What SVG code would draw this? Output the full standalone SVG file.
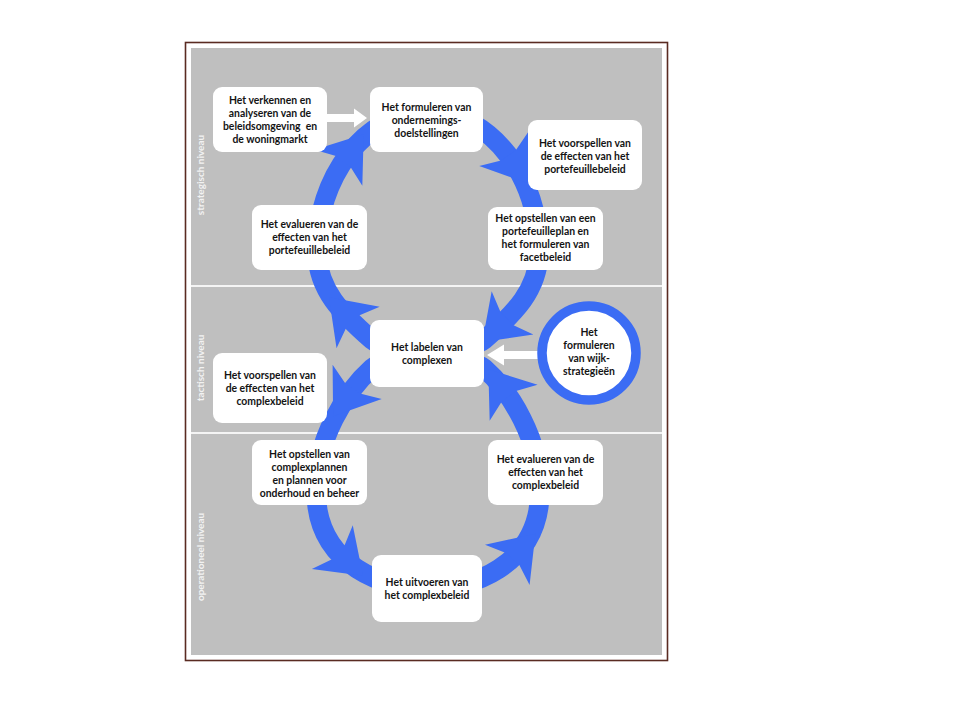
<svg xmlns="http://www.w3.org/2000/svg" width="960" height="720" viewBox="0 0 960 720">
<defs>
<style>
.box{fill:#ffffff;}
.t{font-family:Lato,"Open Sans","DejaVu Sans",sans-serif;font-weight:700;font-size:10.4px;fill:#141414;text-anchor:middle;}
.side{font-family:Lato,"Open Sans","DejaVu Sans",sans-serif;font-weight:700;font-size:10px;fill:#f2f2f2;text-anchor:middle;}
.ring{fill:none;stroke:#3b6cf4;stroke-width:19.5;}
.ah{fill:#3b6cf4;}
.warrow{fill:#ffffff;}
</style>
<path id="ah" d="M26,0 L-16,-30 L-8,-9 L-8,9 L-16,30 Z"/>
</defs>
<rect x="0" y="0" width="960" height="720" fill="#ffffff"/>
<g id="frame">
<rect x="185.5" y="42.5" width="482" height="618" fill="#ffffff" stroke="#5a2b22" stroke-width="1.6"/>
<rect x="191" y="48" width="471" height="607" fill="#bfbfbf"/>
<line x1="191" y1="286" x2="662" y2="286" stroke="#f4f4f4" stroke-width="2"/>
<line x1="191" y1="433" x2="662" y2="433" stroke="#f4f4f4" stroke-width="2"/>
<text class="side" transform="translate(203.5,175) rotate(-90)">strategisch niveau</text>
<text class="side" transform="translate(203.5,368) rotate(-90)">tactisch niveau</text>
<text class="side" transform="translate(203.5,557) rotate(-90)">operationeel niveau</text>
</g>
<g id="connectors">
<path class="ring" d="M372,340 C342,313.6 317,290 317,250 C317,180 363,112 428,112 C493,112 539,180 539,250 C539,290 514,313.6 484,340 C469,353.2 387,354.8 372,368 C345,392 316,440 316,490 C316,568 388,589 428,589 C468,589 540,568 540,490 C540,440 511,392 484,368 C469,354.8 387,353.2 372,340 Z"/>
<use href="#ah" class="ah" transform="translate(348,155) rotate(-53)"/>
<use href="#ah" class="ah" transform="translate(513,162) rotate(55)"/>
<use href="#ah" class="ah" transform="translate(501,324) rotate(136)"/>
<use href="#ah" class="ah" transform="translate(347,316) rotate(-134)"/>
<use href="#ah" class="ah" transform="translate(348,395) rotate(125)"/>
<use href="#ah" class="ah" transform="translate(344,558) rotate(43)"/>
<use href="#ah" class="ah" transform="translate(518,553) rotate(-48)"/>
<use href="#ah" class="ah" transform="translate(504,390) rotate(-127)"/>
<polygon class="warrow" points="327,114 354,114 354,108.5 367,118 354,127.5 354,122 327,122"/>
<polygon class="warrow" points="540,351 504,351 504,344.5 487,355 504,365.5 504,359 540,359"/>
</g>
<g id="n-verkennen">
<rect class="box" x="213" y="87" width="114" height="65" rx="9"/>
<text class="t"><tspan x="270" y="104">Het verkennen en</tspan><tspan x="270" y="117">analyseren van de</tspan><tspan x="270" y="130">beleidsomgeving&#160; en</tspan><tspan x="270" y="143">de woningmarkt</tspan></text>
</g>
<g id="n-formuleren">
<rect class="box" x="370" y="87" width="113" height="65" rx="9"/>
<text class="t"><tspan x="426.5" y="110.5">Het formuleren van</tspan><tspan x="426.5" y="123.5">ondernemings-</tspan><tspan x="426.5" y="136.5">doelstellingen</tspan></text>
</g>
<g id="n-voorspellen-portefeuille">
<rect class="box" x="528" y="120" width="114" height="70" rx="9"/>
<text class="t"><tspan x="585" y="146.5">Het voorspellen van</tspan><tspan x="585" y="159.5">de effecten van het</tspan><tspan x="585" y="172.5">portefeuillebeleid</tspan></text>
</g>
<g id="n-evalueren-portefeuille">
<rect class="box" x="252" y="205" width="115" height="65" rx="9"/>
<text class="t"><tspan x="309.5" y="228">Het evalueren van de</tspan><tspan x="309.5" y="241">effecten van het</tspan><tspan x="309.5" y="254">portefeuillebeleid</tspan></text>
</g>
<g id="n-opstellen-portefeuilleplan">
<rect class="box" x="488" y="207" width="115" height="63" rx="9"/>
<text class="t"><tspan x="545.5" y="222">Het opstellen van een</tspan><tspan x="545.5" y="235">portefeuilleplan en</tspan><tspan x="545.5" y="248">het formuleren van</tspan><tspan x="545.5" y="261">facetbeleid</tspan></text>
</g>
<g id="n-labelen">
<rect class="box" x="370" y="320" width="114" height="67" rx="9"/>
<text class="t"><tspan x="427" y="350.5">Het labelen van</tspan><tspan x="427" y="363.5">complexen</tspan></text>
</g>
<g id="n-wijkstrategieen">
<circle cx="589" cy="353" r="47" fill="#ffffff" stroke="#3b6cf4" stroke-width="9.5"/>
<text class="t"><tspan x="589" y="336">Het</tspan><tspan x="589" y="349">formuleren</tspan><tspan x="589" y="362">van wijk-</tspan><tspan x="589" y="375">strategieën</tspan></text>
</g>
<g id="n-voorspellen-complex">
<rect class="box" x="213" y="353" width="114" height="70" rx="9"/>
<text class="t"><tspan x="270" y="378.5">Het voorspellen van</tspan><tspan x="270" y="391.5">de effecten van het</tspan><tspan x="270" y="404.5">complexbeleid</tspan></text>
</g>
<g id="n-opstellen-complex">
<rect class="box" x="252" y="440" width="115" height="65" rx="9"/>
<text class="t"><tspan x="309.5" y="458">Het opstellen van</tspan><tspan x="309.5" y="471">complexplannen</tspan><tspan x="309.5" y="484">en plannen voor</tspan><tspan x="309.5" y="497">onderhoud en beheer</tspan></text>
</g>
<g id="n-evalueren-complex">
<rect class="box" x="488" y="440" width="115" height="65" rx="9"/>
<text class="t"><tspan x="545.5" y="463">Het evalueren van de</tspan><tspan x="545.5" y="476">effecten van het</tspan><tspan x="545.5" y="489">complexbeleid</tspan></text>
</g>
<g id="n-uitvoeren">
<rect class="box" x="372" y="555" width="110" height="67" rx="9"/>
<text class="t"><tspan x="427" y="585.5">Het uitvoeren van</tspan><tspan x="427" y="598.5">het complexbeleid</tspan></text>
</g>
</svg>
